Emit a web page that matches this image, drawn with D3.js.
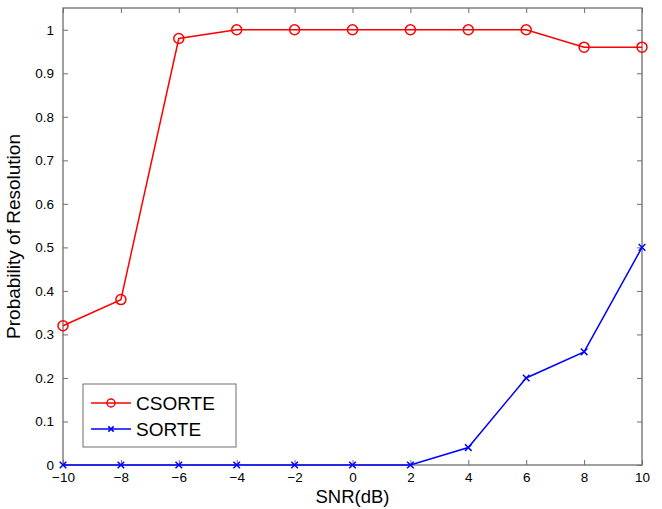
<!DOCTYPE html>
<html>
<head>
<meta charset="utf-8">
<script src="https://cdn.jsdelivr.net/npm/d3@7"></script>
<style>
body { margin: 0; background: #fff; }
svg text { font-family: "Liberation Sans", Arial, sans-serif; fill: #000; }
</style>
</head>
<body>
<div id="chart"></div>
<script>
var snr = [-10, -8, -6, -4, -2, 0, 2, 4, 6, 8, 10],
	csorte = [0.32, 0.38, 0.98, 1, 1, 1, 1, 1, 1, 0.96, 0.96],
	sorte = [0, 0, 0, 0, 0, 0, 0, 0.04, 0.2, 0.26, 0.5],
	xTicks = [-10, -8, -6, -4, -2, 0, 2, 4, 6, 8, 10],
	yTicks = [0, 0.1, 0.2, 0.3, 0.4, 0.5, 0.6, 0.7, 0.8, 0.9, 1];

var margin = { top: 8, right: 20, bottom: 44, left: 63 },
	width = 662 - margin.left - margin.right,
	height = 509 - margin.top - margin.bottom;

var svg = d3.select('#chart').append('svg')
	.attr('width', 662)
	.attr('height', 509)
	.append('g')
	.attr('transform', 'translate(' + margin.left + ',' + margin.top + ')');

var x = d3.scaleLinear().domain([-10, 10]).range([0, width]);
var y = d3.scaleLinear().domain([0, 1.05]).range([height, 0]);

var axisColor = '#6e6e6e';

// box + ticks
function styleAxis(g, noText) {
	g.select('.domain').remove();
	g.selectAll('line').attr('stroke', axisColor);
	g.selectAll('text').style('font-size', '13.5px');
	if (noText) g.selectAll('text').remove();
}
svg.append('g').attr('transform', 'translate(0,' + height + ')')
	.call(d3.axisBottom(x).tickValues(xTicks).tickSize(-5).tickPadding(7)
		.tickFormat(function(d) { return d < 0 ? '\u2212' + Math.abs(d) : d; }))
	.call(styleAxis);
svg.append('g')
	.call(d3.axisTop(x).tickValues(xTicks).tickSize(-5))
	.call(function(g) { styleAxis(g, true); });
svg.append('g')
	.call(d3.axisLeft(y).tickValues(yTicks).tickSize(-5).tickPadding(9)
		.tickFormat(function(d) { return String(d); }))
	.call(styleAxis);
svg.append('g').attr('transform', 'translate(' + width + ',0)')
	.call(d3.axisRight(y).tickValues(yTicks).tickSize(-5))
	.call(function(g) { styleAxis(g, true); });

svg.append('rect')
	.attr('width', width).attr('height', height)
	.attr('fill', 'none').attr('stroke', axisColor).attr('stroke-width', 1.3);

var line = d3.line()
	.x(function(d, i) { return x(snr[i]); })
	.y(function(d) { return y(d); });

// CSORTE
svg.append('path').datum(csorte)
	.attr('d', line).attr('fill', 'none').attr('stroke', '#ff0000').attr('stroke-width', 1.5);
svg.selectAll('.circ').data(csorte).enter().append('circle')
	.attr('cx', function(d, i) { return x(snr[i]); })
	.attr('cy', function(d) { return y(d); })
	.attr('r', 5).attr('fill', 'none').attr('stroke', '#ff0000').attr('stroke-width', 1.5);

// SORTE
svg.append('path').datum(sorte)
	.attr('d', line).attr('fill', 'none').attr('stroke', '#0000ff').attr('stroke-width', 1.5);
var cross = d3.symbol().type(d3.symbolX).size(30);
svg.selectAll('.xm').data(sorte).enter().append('path')
	.attr('d', cross)
	.attr('transform', function(d, i) { return 'translate(' + x(snr[i]) + ',' + y(d) + ')'; })
	.attr('fill', 'none').attr('stroke', '#0000ff').attr('stroke-width', 1.5);

// labels
svg.append('text')
	.attr('x', width / 2).attr('y', height + 38)
	.attr('text-anchor', 'middle').style('font-size', '18.5px')
	.text('SNR(dB)');
svg.append('text')
	.attr('transform', 'translate(-43,' + height / 2 + ') rotate(-90)')
	.attr('text-anchor', 'middle').style('font-size', '19px')
	.text('Probability of Resolution');

// legend
var lg = svg.append('g').attr('transform', 'translate(' + (83 - margin.left) + ',' + (384 - margin.top) + ')');
lg.append('rect').attr('width', 153).attr('height', 63)
	.attr('fill', '#fff').attr('stroke', axisColor).attr('stroke-width', 1);
lg.append('line').attr('x1', 8).attr('x2', 48).attr('y1', 19).attr('y2', 19)
	.attr('stroke', '#ff0000').attr('stroke-width', 1.5);
lg.append('circle').attr('cx', 28).attr('cy', 19).attr('r', 4)
	.attr('fill', 'none').attr('stroke', '#ff0000').attr('stroke-width', 1.5);
lg.append('line').attr('x1', 8).attr('x2', 48).attr('y1', 45).attr('y2', 45)
	.attr('stroke', '#0000ff').attr('stroke-width', 1.5);
lg.append('path').attr('d', d3.symbol().type(d3.symbolX).size(20))
	.attr('transform', 'translate(28,45)')
	.attr('fill', 'none').attr('stroke', '#0000ff').attr('stroke-width', 1.5);
lg.append('text').attr('x', 53).attr('y', 26).style('font-size', '19px').text('CSORTE');
lg.append('text').attr('x', 53).attr('y', 52).style('font-size', '19px').text('SORTE');
</script>
</body>
</html>
